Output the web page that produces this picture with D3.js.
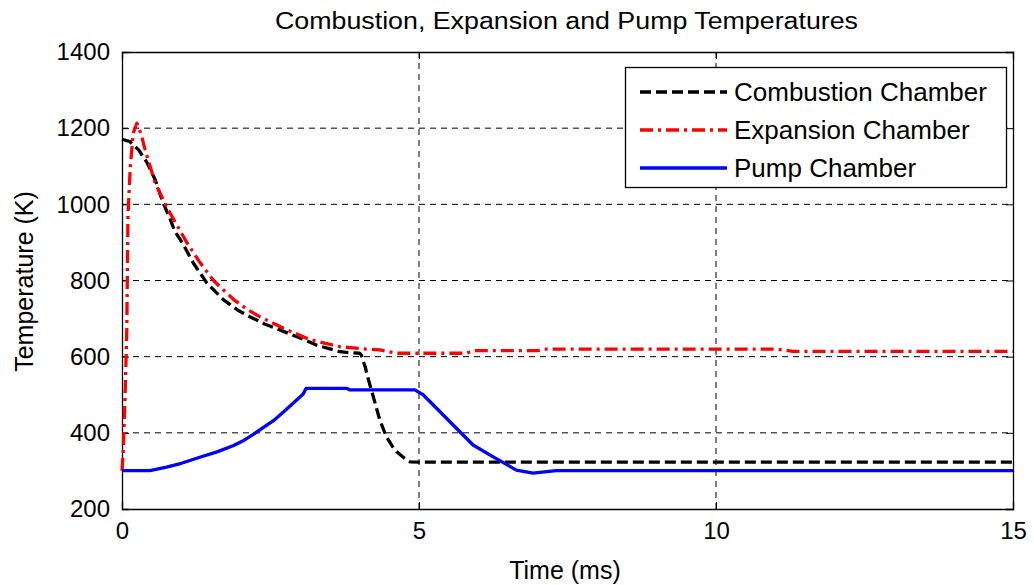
<!DOCTYPE html>
<html><head><meta charset="utf-8">
<script src="https://cdn.jsdelivr.net/npm/d3@7"></script>
<style>
body{margin:0;background:#fff;}
text{font-family:"Liberation Sans",Arial,sans-serif;fill:#000;}
</style></head>
<body><svg id="c" width="1034" height="585"></svg>
<script>
const title = "Combustion, Expansion and Pump Temperatures";
const xLabel = "Time (ms)";
const yLabel = "Temperature (K)";
const xTicks = [0,5,10,15];
const yTicks = [200,400,600,800,1000,1200,1400];
const seriesNames = ["Combustion Chamber","Expansion Chamber","Pump Chamber"];

const combustionT = [0,0.13,0.28,0.42,0.56,0.69,0.80,0.89,1.03,1.20,1.43,1.71,1.95,2.15,2.40,2.66,3.0,3.28,3.67,3.85,4.0,4.03,4.10,4.15,4.23,4.34,4.45,4.55,4.62,4.75,4.85,5.0,15];
const combustionV = [1171,1165,1143,1110,1064,1005,965,929,895,846,793,749,722,705,686,670,649,630,613,610,609,604,570,539,495,434,390,365,351,334,324,323,323];

const expansionT = [0,0.02,0.05,0.08,0.10,0.14,0.19,0.25,0.32,0.39,0.56,0.78,1.09,1.30,1.54,1.88,2.10,2.32,2.71,3.16,3.67,4.12,4.34,4.62,4.9,5.8,5.91,7.0,7.1,11.0,11.3,15];
const expansionV = [300,347,487,662,968,1100,1187,1213,1185,1143,1055,985,900,850,800,750,725,705,675,645,626,620,618,609,609,609,616,616,620,620,614,614];

const pumpT = [0,0.47,0.75,1.0,1.31,1.60,1.87,2.05,2.21,2.55,2.77,3.05,3.10,3.78,3.83,4.93,5.07,5.91,6.25,6.64,6.92,7.15,7.31,15];
const pumpV = [301,301,310,320,336,350,366,380,396,432,462,502,517,517,513,513,500,368,337,302,294,298,301,301];

const svg = d3.select("#c");
const L=122,R=1013,T=52,B=509;
const x = d3.scaleLinear().domain([0,15]).range([L,R]);
const y = d3.scaleLinear().domain([200,1400]).range([B,T]);
const FONT = "'Liberation Sans',Arial,sans-serif";

// grid
const g = svg.append("g");
g.selectAll(".gx").data(xTicks.slice(1,-1)).enter().append("line")
 .attr("x1",d=>x(d)).attr("x2",d=>x(d)).attr("y1",T).attr("y2",B)
 .attr("stroke","#000").attr("stroke-width",1).attr("stroke-dasharray","6,5");
g.selectAll(".gy").data(yTicks.slice(1,-1)).enter().append("line")
 .attr("x1",L).attr("x2",R).attr("y1",d=>y(d)).attr("y2",d=>y(d))
 .attr("stroke","#000").attr("stroke-width",1).attr("stroke-dasharray","6,5");

// axes
const xa = svg.append("g").attr("transform",`translate(0,${B})`)
 .call(d3.axisBottom(x).tickValues(xTicks).tickSize(-7).tickPadding(13).tickFormat(d3.format("d")));
const xaTop = svg.append("g").attr("transform",`translate(0,${T})`)
 .call(d3.axisTop(x).tickValues(xTicks).tickSize(-7).tickFormat(""));
const ya = svg.append("g").attr("transform",`translate(${L},0)`)
 .call(d3.axisLeft(y).tickValues(yTicks).tickSize(-7).tickPadding(12).tickFormat(d3.format("d")));
const yaR = svg.append("g").attr("transform",`translate(${R},0)`)
 .call(d3.axisRight(y).tickValues(yTicks).tickSize(-7).tickFormat(""));
[xa,xaTop,ya,yaR].forEach(a=>{
  a.attr("font-size",null).attr("font-family",null);
  a.select(".domain").attr("stroke","#000").attr("stroke-width",1.3);
  a.selectAll(".tick line").attr("stroke","#000");
  a.selectAll("text").style("font-size","24px").style("font-family",FONT).attr("fill","#000");
});

const data = [
 {t:combustionT,v:combustionV,color:"#000",dash:"11,5",w:3.3},
 {t:expansionT,v:expansionV,color:"#ff0000",dash:"13,5,3,5",w:3.3},
 {t:pumpT,v:pumpV,color:"#0000ff",dash:null,w:3.3}
];
const line = d3.line().x(d=>x(d[0])).y(d=>y(d[1]));
data.forEach(s=>{
  svg.append("path").datum(s.t.map((t,i)=>[t,s.v[i]]))
   .attr("d",line).attr("fill","none").attr("stroke",s.color).attr("stroke-width",s.w)
   .attr("stroke-dasharray",s.dash).attr("stroke-linejoin","round");
});

// legend
const lg = svg.append("g");
lg.append("rect").attr("x",625.5).attr("y",67.5).attr("width",381).attr("height",120)
 .attr("fill","#fff").attr("stroke","#000").attr("stroke-width",1.3);
seriesNames.forEach((n,i)=>{
  const yy = 92 + i*38;
  lg.append("line").attr("x1",640).attr("x2",727).attr("y1",yy).attr("y2",yy)
   .attr("stroke",data[i].color).attr("stroke-width",3.3).attr("stroke-dasharray",data[i].dash);
  lg.append("text").attr("x",734).attr("y",yy).attr("dy","0.36em").style("font-size","26px").text(n);
});

svg.append("text").attr("x",(L+R)/2-1).attr("y",29).attr("text-anchor","middle").style("font-size","23px")
 .attr("textLength",583).attr("lengthAdjust","spacingAndGlyphs").text(title);
svg.append("text").attr("x",565).attr("y",579).attr("text-anchor","middle").style("font-size","25px").text(xLabel);
svg.append("text").attr("transform",`translate(33,${(T+B)/2+1}) rotate(-90)`).attr("text-anchor","middle").style("font-size","25px").text(yLabel);
</script></body></html>
